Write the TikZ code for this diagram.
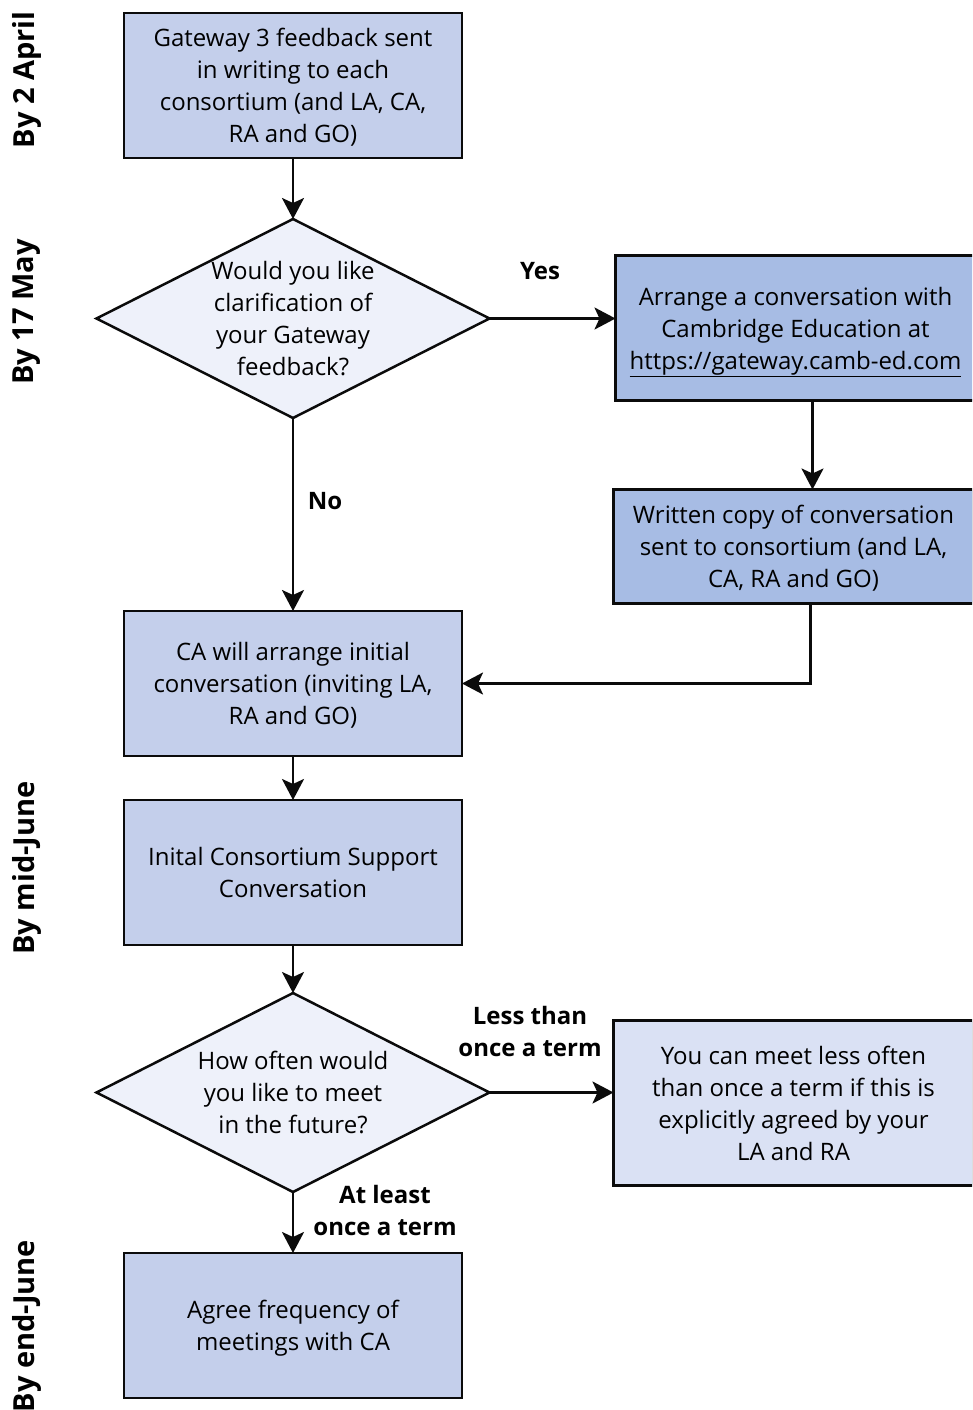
\documentclass[tikz,border=0pt]{standalone}
\usepackage{fontspec}
\setmainfont{Open Sans}
\usetikzlibrary{arrows.meta,positioning,shapes.geometric}
\definecolor{boxblue}{HTML}{C4CFEB}
\definecolor{deepblue}{HTML}{A7BCE4}
\definecolor{askfill}{HTML}{EEF1FA}
\definecolor{notefill}{HTML}{DAE1F4}
\definecolor{inkblack}{HTML}{0B0B0B}

\begin{document}
\begin{tikzpicture}[
  x=1pt, y=-1pt,
  every node/.style={font=\fontsize{24}{32}\selectfont, outer sep=0pt},
  box/.style={draw=inkblack, fill=boxblue, line width=2.5pt, minimum width=338pt,
              minimum height=145pt, align=center, inner sep=4pt, text depth=0pt},
  deep/.style={box, fill=deepblue, minimum width=360pt},
  note/.style={box, fill=notefill, minimum width=360pt, minimum height=165pt},
  ask/.style={diamond, draw=inkblack, fill=askfill, line width=2.5pt, minimum width=393pt,
              minimum height=199pt, align=center, inner sep=-40pt, text depth=0pt},
  lbl/.style={font=\fontsize{24}{32}\selectfont\bfseries, align=center},
  when/.style={font=\fontsize{29}{32}\selectfont\bfseries, rotate=90},
  arr/.style={-{Stealth[length=21pt, width=22pt, inset=5pt]}, line width=2.5pt, color=inkblack},
]
  \useasboundingbox (0,0) rectangle (972,1410);
  \clip (0,0) rectangle (972,1410);

  % main column
  \node[box] (sent) at (293,85.5) {Gateway 3 feedback sent\\in writing to each\\consortium (and LA, CA,\\RA and GO)};
  \node[ask, below=61pt of sent] (clarify) {Would you like\\clarification of\\your Gateway\\feedback?};
  \node[box, below=193pt of clarify] (initial) {CA will arrange initial\\conversation (inviting LA,\\RA and GO)};
  \node[box, below=44pt of initial] (support) {Inital Consortium Support\\Conversation};
  \node[ask, below=48pt of support] (often) {How often would\\you like to meet\\in the future?};
  \node[box, below=61pt of often] (agree) {Agree frequency of\\meetings with CA};

  % right column
  \node[deep, right=126pt of clarify, yshift=-9.5pt] (arrange) {Arrange a conversation with\\Cambridge Education at\\\underline{https://gateway.camb-ed.com}};
  \node[deep, below=89pt of arrange, minimum height=114pt, xshift=-2pt] (copy) {Written copy of conversation\\sent to consortium (and LA,\\CA, RA and GO)};
  \node[note, right=124pt of often, yshift=-10.5pt] (lessnote) {You can meet less often\\than once a term if this is\\explicitly agreed by your\\LA and RA};

  % dates
  \node[when] (april) at (27,80) {By 2 April};
  \node[when] (may) at (27,312) {By 17 May};
  \node[when] (midjune) at (27,868) {By mid-June};
  \node[when] (endjune) at (27,1326) {By end-June};

  % answers
  \node[lbl] (yes) at (540,271) {Yes};
  \node[lbl] (no) at (325,501) {No};
  \node[lbl] (less) at (530,1031) {Less than\\once a term};
  \node[lbl] (least) at (385,1210) {At least\\once a term};

  \draw[arr] (sent) -- (clarify);
  \draw[arr] (clarify.east) -- (clarify.east -| arrange.west);
  \draw[arr] ([xshift=17pt]arrange.south) -- ([xshift=17pt]arrange.south |- copy.north);
  \draw[arr] ([xshift=17pt]copy.south) |- (initial.east);
  \draw[arr] (clarify) -- (initial);
  \draw[arr] (initial) -- (support);
  \draw[arr] (support) -- (often);
  \draw[arr] (often.east) -- (often.east -| lessnote.west);
  \draw[arr] (often) -- (agree);
\end{tikzpicture}
\end{document}
